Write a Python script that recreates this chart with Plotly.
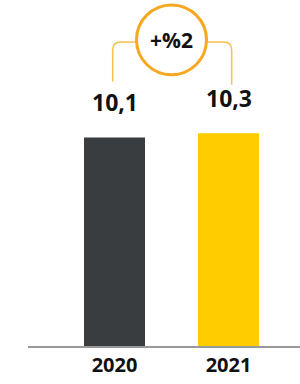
import plotly.graph_objects as go

years = ["2020", "2021"]
values = [10.1, 10.3]
value_labels = ["10,1", "10,3"]
bar_colors = ["#3A3D40", "#FFCC00"]
change_label = "+%2"

fig = go.Figure()
fig.add_trace(go.Bar(
    x=[0, 1], y=values, marker=dict(color=bar_colors, line=dict(width=0)),
    width=0.535, hoverinfo="skip",
))

FONT = "Open Sans"
for i, (v, lab) in enumerate(zip(values, value_labels)):
    fig.add_annotation(x=i, y=v, text=f"<b>{lab}</b>", showarrow=False,
                       xref="x", yref="y", yanchor="bottom", yshift=17,
                       font=dict(family=FONT, size=23, color="#111111"))

# circle and bracket
cx, cy = 0.5, 14.83
rx, ry = 0.307, 1.693
orange = "#F7A823"
fig.add_shape(type="circle", xref="x", yref="y",
              x0=cx - rx, x1=cx + rx, y0=cy - ry, y1=cy + ry,
              line=dict(color=orange, width=3), fillcolor="white", layer="above")
hy = 14.72
fig.add_shape(type="path", xref="x", yref="y",
              path=f"M -0.016,12.81 L -0.016,{hy-0.4} Q -0.016,{hy} 0.054,{hy} L {cx-rx},{hy}",
              line=dict(color="#F9C04B", width=1.5), layer="below")
fig.add_shape(type="path", xref="x", yref="y",
              path=f"M 1.028,12.65 L 1.028,{hy-0.4} Q 1.028,{hy} 0.958,{hy} L {cx+rx},{hy}",
              line=dict(color="#F9C04B", width=1.5), layer="below")
fig.add_annotation(x=cx, y=cy, text=f"<b>{change_label}</b>", showarrow=False,
                   xref="x", yref="y", font=dict(family=FONT, size=21, color="#111111"))

fig.update_layout(
    width=300, height=384, margin=dict(l=0, r=0, t=0, b=37.5),
    paper_bgcolor="white", plot_bgcolor="white", showlegend=False,
    xaxis=dict(domain=[28/300, 1], range=[-0.7588, 1.6272], tickvals=[0, 1], ticktext=[f"<b>{y}</b>" for y in years],
               showgrid=False, zeroline=False, showline=True, linecolor="#999999", linewidth=1.5,
               ticks="", tickfont=dict(family=FONT, size=20, color="#111111"), fixedrange=True),
    yaxis=dict(range=[0, 16.76], visible=False, fixedrange=True),
)
fig.write_html("out.html", config={"displayModeBar": False},
               post_script="document.body.style.margin='0';")
